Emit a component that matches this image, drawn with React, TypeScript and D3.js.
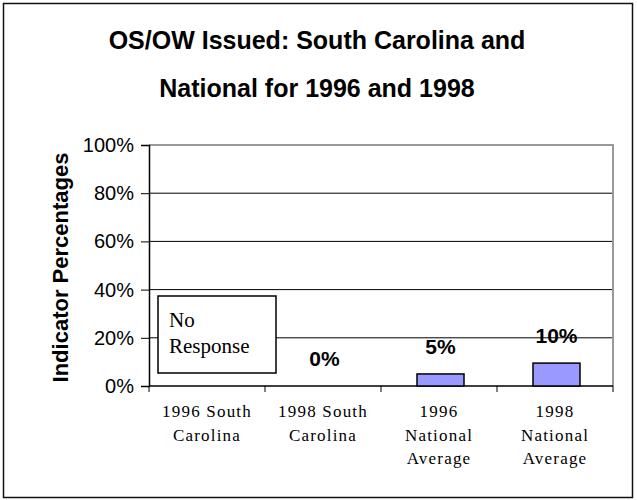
import React, { useEffect, useRef } from "react";
import * as d3 from "d3";

const categories = [
  ["1996 South", "Carolina"],
  ["1998 South", "Carolina"],
  ["1996", "National", "Average"],
  ["1998", "National", "Average"],
];
const values: (number | null)[] = [null, 0, 5, 9.5];
const valueLabels = ["", "0%", "5%", "10%"];
const yTicks = [0, 20, 40, 60, 80, 100];
const titleLines = ["OS/OW Issued: South Carolina and", "National for 1996 and 1998"];

const App: React.FC = () => {
  const svgRef = useRef(null);

  useEffect(() => {
    const width = 637;
    const height = 500;
    const m = { left: 149, right: 613, top: 145, bottom: 386 };

    const svg = d3
      .select(svgRef.current)
      .attr("width", width)
      .attr("height", height)
      .style("font-family", "Liberation Sans, Arial, sans-serif");

    svg.selectAll("*").remove();

    svg
      .append("rect")
      .attr("x", 3.5)
      .attr("y", 3.5)
      .attr("width", 629)
      .attr("height", 494)
      .attr("fill", "white")
      .attr("stroke", "#111")
      .attr("stroke-width", 1.5);

    svg
      .append("g")
      .selectAll("text")
      .data(titleLines)
      .enter()
      .append("text")
      .attr("x", 317)
      .attr("y", (_, i) => 49 + i * 48)
      .attr("text-anchor", "middle")
      .style("font-size", "25px")
      .style("font-weight", "bold")
      .text((d) => d);

    const x = d3
      .scaleBand()
      .domain(categories.map((_, i) => String(i)))
      .range([m.left, m.right]);
    const y = d3.scaleLinear().domain([0, 100]).range([m.bottom, m.top]);

    // gridlines
    svg
      .append("g")
      .selectAll("line")
      .data(yTicks.filter((t) => t > 0 && t < 100))
      .enter()
      .append("line")
      .attr("x1", m.left)
      .attr("x2", m.right)
      .attr("y1", (d) => y(d))
      .attr("y2", (d) => y(d))
      .attr("stroke", "#000")
      .attr("stroke-width", 1);

    // plot border top/right (gray)
    svg
      .append("path")
      .attr("d", `M${m.left},${y(100)}H${m.right}V${m.bottom}`)
      .attr("fill", "none")
      .attr("stroke", "#999")
      .attr("stroke-width", 2);

    // y axis
    const yAxis = svg
      .append("g")
      .attr("transform", `translate(${m.left},0)`)
      .call(
        d3
          .axisLeft(y)
          .tickValues(yTicks)
          .tickSize(8)
          .tickPadding(7)
          .tickFormat((d) => `${d}%`)
      );
    yAxis.select(".domain").attr("stroke", "#000").attr("stroke-width", 1.5);
    yAxis.selectAll(".tick line").attr("stroke", "#000");
    yAxis
      .selectAll(".tick text")
      .attr("fill", "#000")
      .style("font-size", "20px")
      .style("font-family", "Liberation Sans, Arial, sans-serif");

    // x axis
    const xAxis = svg
      .append("g")
      .attr("transform", `translate(0,${m.bottom})`);
    xAxis
      .append("line")
      .attr("x1", m.left)
      .attr("x2", m.right)
      .attr("stroke", "#000")
      .attr("stroke-width", 1.5);
    const edges = categories.map((_, i) => x(String(i)) as number).concat([m.right]);
    xAxis
      .selectAll("line.tk")
      .data(edges)
      .enter()
      .append("line")
      .attr("class", "tk")
      .attr("x1", (d) => d)
      .attr("x2", (d) => d)
      .attr("y1", 0)
      .attr("y2", 6)
      .attr("stroke", "#000");

    xAxis
      .selectAll("text.cat")
      .data(categories)
      .enter()
      .append("text")
      .attr("class", "cat")
      .attr("text-anchor", "middle")
      .style("font-family", "Liberation Serif, Times New Roman, serif")
      .style("font-size", "17px")
      .style("letter-spacing", "1.2px")
      .each(function (lines, i) {
        const cx = (x(String(i)) as number) + x.bandwidth() / 2;
        d3.select(this)
          .selectAll("tspan")
          .data(lines)
          .enter()
          .append("tspan")
          .attr("x", cx)
          .attr("y", (_, j) => 31 + j * 23.5)
          .text((d) => d);
      });

    // bars
    const barW = 47;
    const bars = values
      .map((v, i) => ({ v, i }))
      .filter((d) => d.v !== null) as { v: number; i: number }[];
    svg
      .append("g")
      .selectAll("rect")
      .data(bars.filter((d) => d.v > 0))
      .enter()
      .append("rect")
      .attr("x", (d) => (x(String(d.i)) as number) + x.bandwidth() / 2 - barW / 2 + 1.5)
      .attr("y", (d) => y(d.v))
      .attr("width", barW)
      .attr("height", (d) => y(0) - y(d.v))
      .attr("fill", "#9999ff")
      .attr("stroke", "#000")
      .attr("stroke-width", 1.5);

    svg
      .append("g")
      .selectAll("text")
      .data(bars)
      .enter()
      .append("text")
      .attr("x", (d) => (x(String(d.i)) as number) + x.bandwidth() / 2 + 1.5)
      .attr("y", (d) => y(d.v) - 20)
      .attr("text-anchor", "middle")
      .style("font-size", "21px")
      .style("font-weight", "bold")
      .text((d) => valueLabels[d.i]);

    // No Response box
    const nr = svg.append("g");
    nr.append("rect")
      .attr("x", 158)
      .attr("y", 296)
      .attr("width", 118)
      .attr("height", 77)
      .attr("fill", "white")
      .attr("stroke", "#000")
      .attr("stroke-width", 1.5);
    nr.append("text")
      .style("font-family", "Liberation Serif, Times New Roman, serif")
      .style("font-size", "21px")
      .selectAll("tspan")
      .data(["No", "Response"])
      .enter()
      .append("tspan")
      .attr("x", 169)
      .attr("y", (_, i) => 327 + i * 26)
      .text((d) => d);

    // y axis title
    svg
      .append("text")
      .attr("transform", `translate(68,${(m.top + m.bottom) / 2 + 2}) rotate(-90)`)
      .attr("text-anchor", "middle")
      .style("font-size", "22px")
      .style("font-weight", "bold")
      .text("Indicator Percentages");
  }, []);

  return <svg ref={svgRef} style={{ position: "absolute", left: 0, top: 0 }} />;
};

export default App;
